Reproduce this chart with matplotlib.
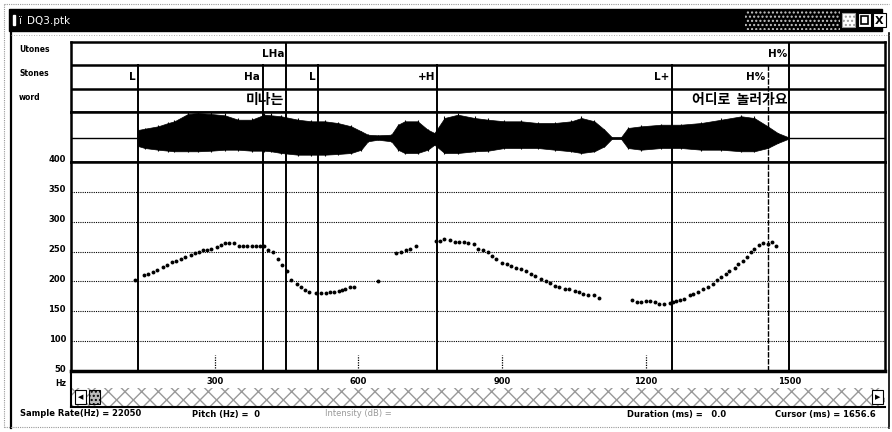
import matplotlib.pyplot as plt
from matplotlib.patches import Rectangle

W, H = 892, 432

# pitch track: time (ms), F0 (Hz)
pitch_t = [133, 152, 161, 171, 180, 192, 201, 211, 220, 229, 239, 250, 260, 267, 276, 285, 293, 304, 314, 322,
           331, 340, 350, 359, 368, 377, 386, 395, 403, 411, 422, 432, 441, 452, 460, 471, 480, 489, 498, 512,
           523, 532, 540, 550, 560, 567, 573, 583, 591,
           641,
           679, 690, 700, 709, 721,
           763, 771, 780, 791, 801, 810, 820, 829, 841, 851, 860, 871, 880, 888, 901, 910, 919, 930, 940, 951,
           961, 970, 982, 991, 1001, 1010, 1020, 1031, 1040, 1052, 1061, 1070, 1079, 1093, 1102,
           1172, 1182, 1191, 1201, 1210, 1219, 1229, 1239, 1250, 1258, 1264, 1272, 1281, 1292, 1300, 1309, 1319,
           1330, 1340, 1349, 1358, 1367, 1375, 1386, 1393, 1403, 1412, 1420, 1427, 1436, 1445, 1455, 1464, 1473]
pitch_hz = [203, 211, 212, 216, 219, 224, 227, 233, 235, 238, 241, 245, 248, 250, 252, 253, 254, 258, 261, 264,
            265, 264, 260, 260, 260, 260, 260, 260, 260, 253, 249, 238, 227, 217, 203, 196, 191, 186, 182, 181,
            181, 181, 183, 183, 184, 185, 188, 190, 191,
            201,
            247, 250, 253, 254, 260,
            267, 268, 271, 269, 266, 266, 266, 264, 262, 254, 253, 250, 243, 237, 231, 229, 226, 223, 220, 217,
            212, 209, 204, 200, 197, 193, 190, 188, 188, 184, 183, 179, 177, 177, 173,
            169, 166, 165, 167, 167, 166, 163, 163, 164, 165, 167, 169, 171, 177, 179, 183, 188,
            191, 196, 203, 207, 212, 217, 223, 229, 235, 241, 249, 254, 261, 264, 262, 266, 260]

# waveform envelope: time (ms), upper / lower amplitude
wave_t = [140, 154, 182, 203, 216, 244, 265, 293, 321, 349, 377, 404, 418, 439, 474, 502, 530, 557, 585, 606,
          620, 641, 669, 683, 697, 724, 745, 759, 780, 808, 843, 871, 905, 940, 975, 1010, 1045, 1066, 1093, 1114,
          1129, 1149, 1163, 1191, 1233, 1274, 1316, 1358, 1400, 1427, 1455, 1476, 1497]
wave_up = [8, 9.3, 11.7, 15, 16.7, 24, 25, 24, 22.7, 18.3, 18.3, 23.3, 22.7, 21.7, 18.3, 16.7, 16.7, 15, 11.7, 6.7,
           3.3, 2.7, 3.3, 13.3, 16.7, 16.7, 8.3, 5, 20, 23.3, 20, 18.3, 16.7, 16.7, 15, 15, 16.7, 20, 16.7, 8.3,
           1, 1, 10, 11.7, 13.3, 13.3, 15, 18.3, 21.7, 20, 11.7, 5, 1]
wave_lo = [8, 10, 11.7, 12.7, 13.3, 13.3, 13.3, 12.7, 11.7, 11.7, 12.7, 12.7, 13.3, 15, 16.7, 16.7, 16.7, 16, 15, 11.7,
           3.3, 1.7, 3.3, 11.7, 15, 15, 11.7, 6.7, 15, 15, 13.3, 12.7, 10, 10, 10, 11.7, 13.3, 15, 13.3, 8.3,
           1, 1, 10, 11.7, 10, 10, 11.7, 11.7, 13.3, 13.3, 10, 5, 1]

# annotation tiers
utone_times = [450, 1500]
utone_labels = ['LHa', 'H%']
stone_times = [140, 400, 450, 515, 765, 1255, 1455, 1500]
stone_labels = ['L', 'Ha', '', 'L', '+H', 'L+', 'H%', '']
word_times = [450, 1500]
word_labels = ['미나는', '어디로  놀러가요']

yticks = [50, 100, 150, 200, 250, 300, 350, 400]
xticks = [300, 600, 900, 1200, 1500]

BOLD = dict(fontweight='bold', color='black')


def box(x0, y0, x1, y1):
    return [x0 / W, 1 - y1 / H, (x1 - x0) / W, (y1 - y0) / H]


def bound_style(t):
    # the H% boundary at 1455 ms is drawn as a thin broken line
    if t == 1455:
        return dict(lw=1.0, ls=(0, (4, 1)))
    return dict(lw=1.4, ls='-')


fig = plt.figure(figsize=(W / 100, H / 100), dpi=100)

# window chrome in pixel coords
bg = fig.add_axes([0, 0, 1, 1])
bg.set_xlim(0, W)
bg.set_ylim(H, 0)
bg.axis('off')

bg.add_patch(Rectangle((9, 9), 873, 22, color='black'))
bg.add_patch(Rectangle((745, 10), 95, 20, facecolor='black', edgecolor='#c8c8c8', hatch='....', lw=0))
bg.add_patch(Rectangle((842, 13), 13, 14, facecolor='white', edgecolor='#999999', hatch='....', lw=0.8))
bg.add_patch(Rectangle((858, 13), 13, 14, facecolor='white', edgecolor='black', lw=0.8))
bg.add_patch(Rectangle((861, 16), 7, 8, facecolor='white', edgecolor='black', lw=1.2))
bg.add_patch(Rectangle((873, 13), 13, 14, facecolor='white', edgecolor='black', lw=0.8))
bg.text(879.5, 20.5, 'X', ha='center', va='center', fontsize=8, **BOLD)
bg.add_patch(Rectangle((13, 15), 2, 10, color='white'))
bg.text(19, 21, 'ï', color='white', fontsize=7, va='center')
bg.text(27, 21, 'DQ3.ptk', color='white', fontsize=7.5, va='center')
bg.plot([4, 4], [4, 428], color='#999999', lw=0.8, ls=(0, (1, 1)))
bg.plot([11, 11], [33, 428], color='black', lw=1.6)
bg.plot([889, 889], [33, 428], color='black', lw=1.2)
bg.plot([4, 889], [4, 4], color='#999999', lw=0.8, ls=(0, (1, 1)))
bg.plot([4, 889], [427, 427], color='#999999', lw=0.8, ls=(0, (1, 1)))
bg.plot([11, 889], [35, 35], color='#999999', lw=0.6, ls=(0, (1, 2)))

for lbl, y in zip(['Utones', 'Stones', 'word'], [50, 73, 97]):
    bg.text(19, y, lbl, fontsize=5.5, va='center', **BOLD)

for v in yticks:
    y = 162 + (400 - v) * 209 / 350
    bg.text(66, y - 2, str(v), fontsize=6, ha='right', va='center', **BOLD)
bg.text(55, 384, 'Hz', fontsize=5.5, va='center', **BOLD)

# scrollbar
bg.add_patch(Rectangle((72, 388), 813, 18, facecolor='white', edgecolor='#999999', hatch='xx', lw=0))
bg.plot([71, 885], [407, 407], color='black', lw=1.5)
bg.plot([71, 71], [371, 407], color='black', lw=1.5)
bg.add_patch(Rectangle((75, 390), 11, 14, facecolor='white', edgecolor='black', lw=0.8))
bg.text(80.5, 397, '◀', fontsize=5, ha='center', va='center')
bg.add_patch(Rectangle((89, 390), 11, 14, facecolor='#bbbbbb', edgecolor='black', lw=0.8, hatch='....'))
bg.add_patch(Rectangle((872, 390), 11, 14, facecolor='white', edgecolor='black', lw=0.8))
bg.text(877.5, 397, '▶', fontsize=5, ha='center', va='center')

# status bar
bg.text(20, 414, 'Sample Rate(Hz) = 22050', fontsize=6, va='center', **BOLD)
bg.text(192, 414, 'Pitch (Hz) =  0', fontsize=6, va='center', **BOLD)
bg.text(325, 414, 'Intensity (dB) =', fontsize=6, va='center', color='#999999')
bg.text(627, 414, 'Duration (ms) =   0.0', fontsize=6, va='center', **BOLD)
bg.text(775, 414, 'Cursor (ms) = 1656.6', fontsize=6, va='center', **BOLD)

# tiers
ax_t = fig.add_axes(box(71, 42, 885, 112))
ax_t.set_xlim(0, 1700)
ax_t.set_ylim(0, 3)
ax_t.set_xticks([])
ax_t.set_yticks([])
for s in ax_t.spines.values():
    s.set_linewidth(1.8)
ax_t.axhline(1, color='black', lw=1.8)
ax_t.axhline(2, color='black', lw=1.8)
for t, lbl in zip(utone_times, utone_labels):
    ax_t.plot([t, t], [2, 3], color='black', lw=1.4)
    ax_t.text(t - 5, 2.5, lbl, fontsize=7.5, ha='right', va='center', **BOLD)
for t, lbl in zip(stone_times, stone_labels):
    ax_t.plot([t, t], [0, 2], color='black', **bound_style(t))
    ax_t.text(t - 5, 1.5, lbl, fontsize=7.5, ha='right', va='center', **BOLD)
for t, lbl in zip(word_times, word_labels):
    ax_t.text(t - 4, 0.5, lbl, fontsize=10, ha='right', va='center', fontweight='bold',
              family=['Noto Sans CJK KR', 'DejaVu Sans'])

# waveform
ax_w = fig.add_axes(box(71, 112, 885, 162))
ax_w.set_xlim(0, 1700)
ax_w.set_ylim(-24, 26)
ax_w.set_xticks([])
ax_w.set_yticks([])
for s in ax_w.spines.values():
    s.set_linewidth(1.8)
ax_w.axhline(0, color='black', lw=1.0)
ax_w.fill_between(wave_t, wave_up, [-v for v in wave_lo], color='black', lw=0.5)
ax_w.vlines(wave_t, [-v * 1.08 for v in wave_lo], [v * 1.08 for v in wave_up], color='black', lw=0.8)
for t in stone_times:
    ax_w.axvline(t, color='black', **bound_style(t))

# pitch
ax_p = fig.add_axes(box(71, 162, 885, 371))
ax_p.set_xlim(0, 1700)
ax_p.set_ylim(50, 400)
for s in ax_p.spines.values():
    s.set_linewidth(1.8)
ax_p.spines['bottom'].set_linewidth(2.5)
ax_p.set_yticks([])
ax_p.set_xticks(xticks)
ax_p.set_xticklabels([str(x) for x in xticks], fontsize=6, fontweight='bold')
ax_p.tick_params(axis='x', length=0, pad=4)
for v in yticks[1:-1]:
    ax_p.axhline(v, color='black', lw=0.8, ls=(0, (1, 1)))
ax_p.vlines(xticks[:-1], 55, 77, color='black', lw=0.9, ls=(0, (1, 1)))
for t in stone_times:
    ax_p.axvline(t, color='black', **bound_style(t))
ax_p.plot(pitch_t, pitch_hz, 'o', color='black', markersize=2.8, markeredgewidth=0)

fig.savefig('out.png', dpi=100)
